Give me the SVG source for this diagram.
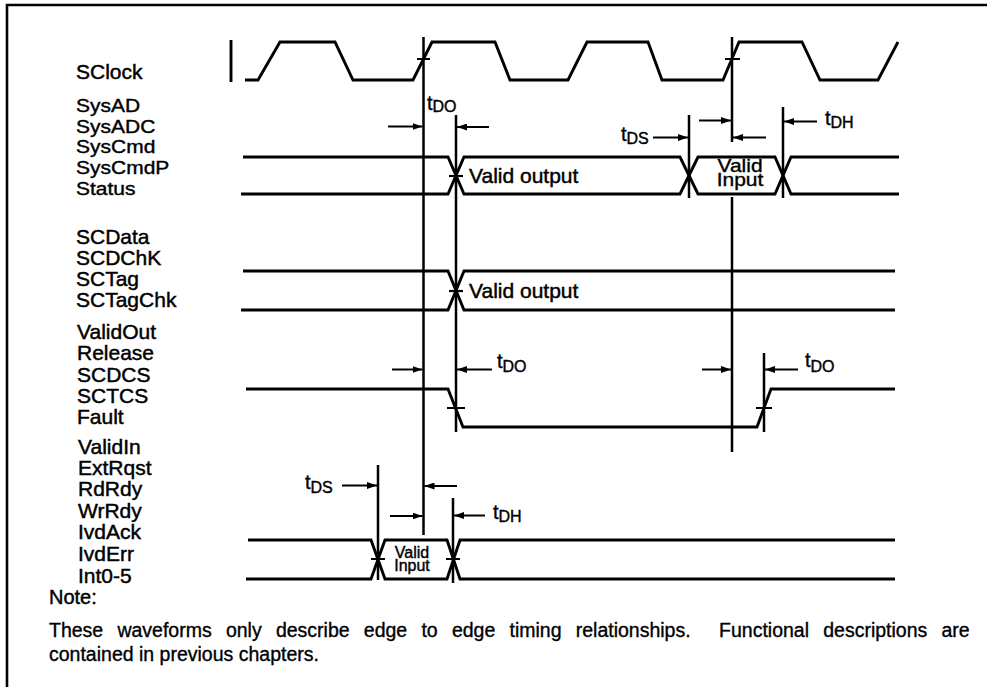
<svg xmlns="http://www.w3.org/2000/svg" width="987" height="687" viewBox="0 0 987 687">
<defs>
<style>
.lbl{font-family:"Liberation Sans",Arial,Helvetica,sans-serif;font-size:21px;fill:#000;stroke:#000;stroke-width:0.45}
.note{font-family:"Liberation Sans",Arial,Helvetica,sans-serif;font-size:19.5px;fill:#000;stroke:#000;stroke-width:0.35}
.t{font-family:"Liberation Sans",Arial,Helvetica,sans-serif;font-size:20px;fill:#000;stroke:#000;stroke-width:0.4}
.sub{font-size:16px}
.wave{fill:none;stroke:#000;stroke-width:2.9;stroke-linejoin:miter}
.ref{fill:none;stroke:#000;stroke-width:2.5}
.tick{fill:none;stroke:#000;stroke-width:2.2}
.arr{fill:none;stroke:#000;stroke-width:2;marker-end:url(#ah)}
.frame{fill:none;stroke:#000;stroke-width:2.6}
</style>
<marker id="ah" markerUnits="userSpaceOnUse" markerWidth="10" markerHeight="7" refX="10" refY="3.5" orient="auto">
<path d="M0,0 L10,3.5 L0,7 z" fill="#000"/>
</marker>
</defs>
<rect width="987" height="687" fill="#fff"/>
<g id="frame">
<path class="frame" d="M7,687 V5 H987"/>
</g>

<g id="labels">
<text class="lbl" x="76" y="78.5">SClock</text>
<text class="lbl" transform="matrix(1,0,0,0.9,76,112)">SysAD</text>
<text class="lbl" transform="matrix(1,0,0,0.9,76,133)">SysADC</text>
<text class="lbl" transform="matrix(1,0,0,0.9,76,153)">SysCmd</text>
<text class="lbl" transform="matrix(1,0,0,0.9,76,174)">SysCmdP</text>
<text class="lbl" transform="matrix(1,0,0,0.9,76,194.5)">Status</text>
<text class="lbl" x="76" y="244">SCData</text>
<text class="lbl" x="76" y="265">SCDChK</text>
<text class="lbl" x="76" y="286">SCTag</text>
<text class="lbl" x="76" y="307">SCTagChk</text>
<text class="lbl" x="77" y="338.5">ValidOut</text>
<text class="lbl" x="77" y="360">Release</text>
<text class="lbl" x="77" y="381.5">SCDCS</text>
<text class="lbl" x="77" y="403">SCTCS</text>
<text class="lbl" x="77" y="424">Fault</text>
<text class="lbl" x="78" y="453.5">ValidIn</text>
<text class="lbl" x="78" y="475">ExtRqst</text>
<text class="lbl" x="78" y="496">RdRdy</text>
<text class="lbl" x="78" y="517.5">WrRdy</text>
<text class="lbl" x="78" y="539">IvdAck</text>
<text class="lbl" x="78" y="560.5">IvdErr</text>
<text class="lbl" x="78" y="582.5">Int0-5</text>
</g>

<g id="sclock">
<path class="wave" d="M231,40 V82"/>
<path class="wave" d="M245,80 L258,80 L280,42 L335,42 L353,80 L413,80 L432,42 L495,42 L510,80 L568,80 L587,42 L648,42 L662,80 L723,80 L739,42 L802,42 L820,80 L878,80 L898,42"/>
<path class="tick" d="M417,59 H430 M725,59 H740"/>
</g>

<g id="sysad">
<path class="wave" d="M243,157 H448 L464,194 H680 L698,157 H775 L791,194 H899"/>
<path class="wave" d="M241,194 H448 L464,157 H680 L698,194 H775 L791,157 H899"/>
<path class="tick" d="M449,176 H463"/>
<text class="lbl" x="469" y="183">Valid output</text>
<text class="t" transform="matrix(1.05,0,0,0.95,740,172)" text-anchor="middle">Valid</text>
<text class="t" transform="matrix(1.05,0,0,0.95,740,186)" text-anchor="middle">Input</text>
</g>

<g id="scdata">
<path class="wave" d="M243,271 H448 L464,310 H895"/>
<path class="wave" d="M241,310 H448 L464,271 H895"/>
<path class="tick" d="M449,291 H463"/>
<text class="lbl" x="469" y="297.5">Valid output</text>
</g>

<g id="validout">
<path class="wave" d="M246,389 H448 L463,427 H757 L771,389 H895"/>
<path class="tick" d="M447,408 H465 M756,408 H772"/>
</g>

<g id="validin">
<path class="wave" d="M248,540 H371 L385,579 H447 L460,540 H895"/>
<path class="wave" d="M246,579 H371 L385,540 H447 L460,579 H895"/>
<path class="tick" d="M371,559 H385 M446,559 H460"/>
<text class="t" x="412" y="557.5" text-anchor="middle" style="font-size:16px">Valid</text>
<text class="t" x="412" y="571" text-anchor="middle" style="font-size:16px">Input</text>
</g>

<g id="connectors">
<path class="ref" d="M423.5,37 V535"/>
<path class="ref" d="M456,115 V432"/>
<path class="ref" d="M732,37 V142 M732,197 V452"/>
<path class="ref" d="M764,353 V432"/>
<path class="ref" d="M689,115 V198"/>
<path class="ref" d="M783,107 V198"/>
<path class="ref" d="M378,465 V580"/>
<path class="ref" d="M453,498 V583"/>
<line class="arr" x1="388" y1="126.5" x2="422.5" y2="126.5"/>
<line class="arr" x1="489" y1="127" x2="457" y2="127"/>
<line class="arr" x1="653" y1="137.5" x2="688" y2="137.5"/>
<line class="arr" x1="699" y1="120.5" x2="731" y2="120.5"/>
<line class="arr" x1="766" y1="137.5" x2="733" y2="137.5"/>
<line class="arr" x1="817" y1="121.5" x2="784" y2="121.5"/>
<line class="arr" x1="392" y1="369.5" x2="422.5" y2="369.5"/>
<line class="arr" x1="492" y1="369.5" x2="457" y2="369.5"/>
<line class="arr" x1="702" y1="369.5" x2="731" y2="369.5"/>
<line class="arr" x1="798" y1="369.5" x2="765" y2="369.5"/>
<line class="arr" x1="342" y1="485.5" x2="377" y2="485.5"/>
<line class="arr" x1="457" y1="486" x2="424.5" y2="486"/>
<line class="arr" x1="390" y1="516" x2="422.5" y2="516"/>
<line class="arr" x1="485" y1="515.5" x2="454" y2="515.5"/>
</g>

<g id="timing-labels">
<text class="t" x="427" y="110">t<tspan class="sub" dy="2">DO</tspan></text>
<text class="t" x="621" y="141">t<tspan class="sub" dy="2.5">DS</tspan></text>
<text class="t" x="825" y="125">t<tspan class="sub" dy="3">DH</tspan></text>
<text class="t" x="497" y="368">t<tspan class="sub" dy="3.5">DO</tspan></text>
<text class="t" x="805" y="367">t<tspan class="sub" dy="5">DO</tspan></text>
<text class="t" x="305" y="489">t<tspan class="sub" dy="3.5">DS</tspan></text>
<text class="t" x="493" y="519">t<tspan class="sub" dy="3">DH</tspan></text>
</g>

<g id="note">
<text class="lbl" x="49" y="604" style="font-size:20px">Note:</text>
<text class="note" x="49" y="636.5" xml:space="preserve" style="word-spacing:8.8px;white-space:pre">These waveforms only describe edge to edge timing relationships.  Functional descriptions are</text>
<text class="note" x="49" y="661">contained in previous chapters.</text>
</g>
</svg>
